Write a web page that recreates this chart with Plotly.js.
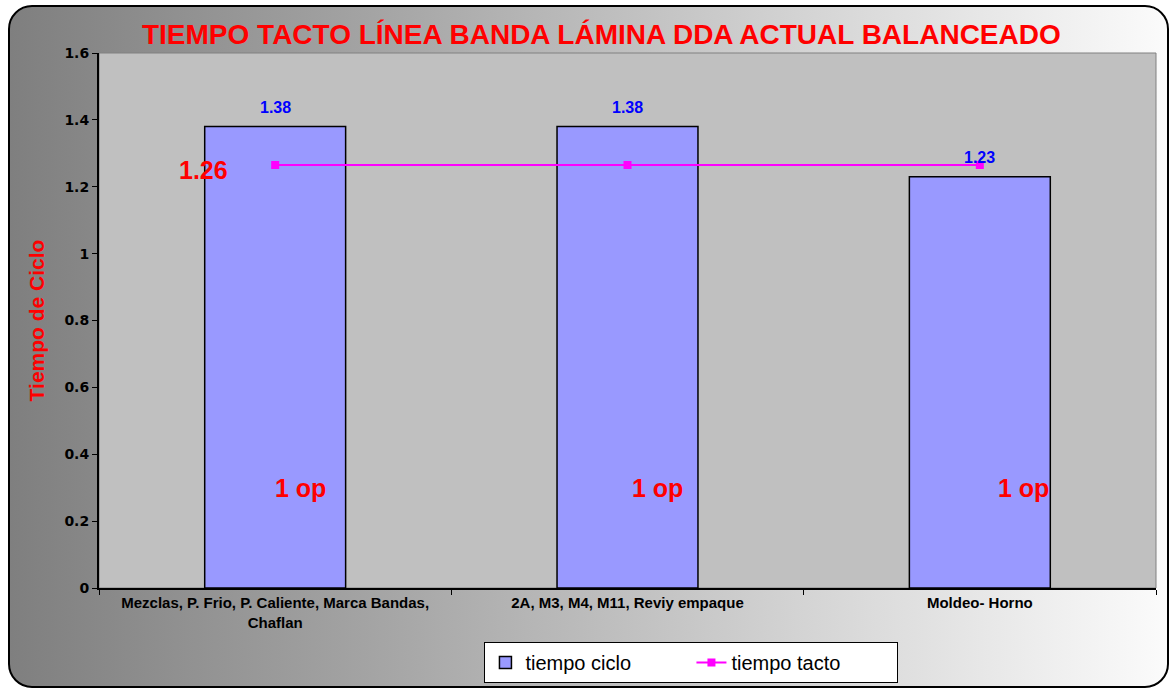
<!DOCTYPE html>
<html>
<head>
<meta charset="utf-8">
<script src="https://cdn.plot.ly/plotly-3.0.1.min.js"></script>
<style>
  html, body { margin: 0; padding: 0; width: 1170px; height: 688px; overflow: hidden; background: #ffffff; }
  #bg { position: absolute; left: 8px; top: 5px; width: 1157px; height: 679px;
        border: 2px solid #000; border-radius: 24px;
        background: linear-gradient(to right, #7f7f7f 0%, #a6a6a6 33%, #dcdcdc 75%, #fbfbfb 100%); }
  #chart { position: absolute; left: 0; top: 0; width: 1170px; height: 688px; }
</style>
</head>
<body>
<div id="bg"></div>
<div id="chart"></div>
<script>
const categories = ["Mezclas, P. Frio, P. Caliente, Marca Bandas,<br>Chaflan", "2A, M3, M4, M11, Reviy empaque", "Moldeo- Horno"];
const tiempoCiclo = [1.38, 1.38, 1.23];
const tiempoTacto = [1.265, 1.265, 1.265];
const tactoLabel = "1.26";
const operarios = ["1 op", "1 op", "1 op"];
const opLevel = 0.30;
const yTicks = [0, 0.2, 0.4, 0.6, 0.8, 1, 1.2, 1.4, 1.6];

const FONT = "Liberation Sans, Arial, sans-serif";
const TICKFONT = "DejaVu Sans, Liberation Sans, sans-serif";

const traces = [
  {
    type: "bar", name: "tiempo ciclo", x: categories, y: tiempoCiclo,
    marker: { color: "#9999ff", line: { color: "#000000", width: 1.5 } },
    hoverinfo: "skip"
  },
  {
    type: "scatter", mode: "lines+markers", name: "tiempo tacto", x: categories, y: tiempoTacto,
    line: { color: "#ff00ff", width: 2 },
    marker: { color: "#ff00ff", symbol: "square", size: 8 },
    hoverinfo: "skip"
  }
];

const annotations = [];
categories.forEach((c, i) => {
  annotations.push({
    x: c, y: tiempoCiclo[i], xref: "x", yref: "y", text: tiempoCiclo[i].toFixed(2),
    showarrow: false, yshift: 19, font: { family: FONT, size: 16, color: "#0000ff", weight: "bold" }
  });
});
const opShift = [25, 30, 44];
categories.forEach((c, i) => {
  annotations.push({
    x: c, y: opLevel, xref: "x", yref: "y", text: operarios[i],
    showarrow: false, xshift: opShift[i], yshift: 0, font: { family: FONT, size: 25, color: "#ff0000", weight: "bold" }
  });
});
annotations.push({
  x: categories[0], y: tiempoTacto[0], xref: "x", yref: "y", text: tactoLabel,
  showarrow: false, xshift: -72, yshift: -5, font: { family: FONT, size: 25, color: "#ff0000", weight: "bold" }
});

const layout = {
  width: 1170, height: 688,
  margin: { l: 99, r: 14, t: 53, b: 100, autoexpand: false },
  paper_bgcolor: "rgba(0,0,0,0)",
  plot_bgcolor: "#c0c0c0",
  title: {
    text: "TIEMPO TACTO LÍNEA BANDA LÁMINA DDA ACTUAL BALANCEADO",
    font: { family: FONT, size: 28, color: "#ff0000", weight: "bold" },
    x: 0.514, xanchor: "center", y: 0.951, yanchor: "middle"
  },
  bargap: 0.6,
  showlegend: true,
  legend: {
    orientation: "h", x: 0.5605, xanchor: "center", y: -0.101, yanchor: "top",
    bgcolor: "#ffffff", bordercolor: "#000000", borderwidth: 1,
    font: { family: FONT, size: 20, color: "#000000" },
    entrywidth: 161, traceorder: "normal"
  },
  xaxis: {
    type: "category", tickson: "boundaries", ticks: "outside", ticklen: 5, tickcolor: "#000",
    showline: true, linecolor: "#000", linewidth: 2, showgrid: false,
    tickfont: { family: FONT, size: 15, color: "#000", weight: "bold" }
  },
  yaxis: {
    range: [0, 1.6], tickvals: yTicks, ticktext: yTicks.map(v => String(v)),
    ticks: "outside", ticklen: 5, tickcolor: "#000",
    showline: true, linecolor: "#000", linewidth: 2, showgrid: false, zeroline: false,
    tickfont: { family: TICKFONT, size: 14, color: "#000", weight: "bold" },
    title: { text: "Tiempo de Ciclo", font: { family: FONT, size: 21, color: "#ff0000", weight: "bold" }, standoff: 14 }
  },
  shapes: [
    { type: "rect", xref: "paper", yref: "paper", x0: 0, x1: 1, y0: 0, y1: 1,
      line: { color: "#808080", width: 1 }, layer: "below" }
  ],
  annotations: annotations
};

Plotly.newPlot("chart", traces, layout, { displayModeBar: false, staticPlot: true });
</script>
</body>
</html>
